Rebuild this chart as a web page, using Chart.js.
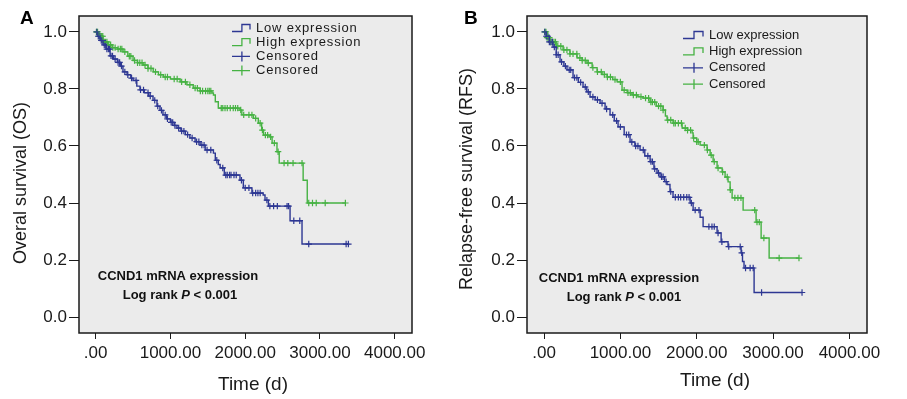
<!DOCTYPE html>
<html>
<head>
<meta charset="utf-8">
<script src="https://cdn.jsdelivr.net/npm/chart.js@4.4.1/dist/chart.umd.min.js"></script>
<style>
  html, body { margin: 0; padding: 0; background: #fff; }
  .panel { position: absolute; top: 0; }
  #pa { left: 0; }
  #pb { left: 450px; }
</style>
</head>
<body>
<div class="panel" id="pa"><canvas id="chartA" width="450" height="399"></canvas></div>
<div class="panel" id="pb"><canvas id="chartB" width="457" height="399"></canvas></div>
<script>
// axis ticks
const xTicks = [0, 1000, 2000, 3000, 4000];
const xTickLabels = ['.00', '1000.00', '2000.00', '3000.00', '4000.00'];
const yTicks = [0, 0.2, 0.4, 0.6, 0.8, 1.0];
const yTickLabels = ['0.0', '0.2', '0.4', '0.6', '0.8', '1.0'];

// A: overall survival, event times (d) and survival after each step
const osLowTime = [0, 30, 60, 100, 140, 193, 240, 290, 330, 365, 420, 470, 500, 550, 593, 650, 710, 767, 820, 860, 900, 950, 1000, 1050, 1087, 1140, 1200, 1260, 1330, 1397, 1465, 1575, 1600, 1640, 1665, 1720, 1930, 1975, 2090, 2240, 2265, 2310, 2600, 2760, 3380];
const osLowSurv = [1, 0.985, 0.97, 0.955, 0.94, 0.916, 0.905, 0.893, 0.88, 0.86, 0.85, 0.838, 0.83, 0.81, 0.797, 0.787, 0.775, 0.76, 0.74, 0.725, 0.709, 0.695, 0.683, 0.672, 0.663, 0.652, 0.64, 0.628, 0.615, 0.603, 0.586, 0.575, 0.55, 0.535, 0.523, 0.498, 0.48, 0.453, 0.435, 0.428, 0.41, 0.389, 0.338, 0.256, 0.256];
const osHighTime = [0, 40, 99, 160, 220, 290, 366, 430, 500, 560, 635, 700, 770, 840, 905, 1000, 1130, 1220, 1305, 1397, 1555, 1575, 1600, 1640, 1930, 1955, 2110, 2175, 2220, 2245, 2330, 2360, 2425, 2455, 2775, 2830, 3340];
const osHighSurv = [1, 0.985, 0.965, 0.955, 0.945, 0.94, 0.93, 0.915, 0.9, 0.892, 0.884, 0.872, 0.86, 0.85, 0.842, 0.835, 0.825, 0.815, 0.803, 0.793, 0.786, 0.779, 0.755, 0.733, 0.726, 0.709, 0.697, 0.68, 0.656, 0.638, 0.632, 0.61, 0.58, 0.54, 0.48, 0.40, 0.40];
const osLowCensored = [15, 35, 55, 75, 95, 115, 135, 150, 170, 185, 205, 225, 260, 300, 320, 345, 390, 430, 480, 540, 600, 640, 700, 730, 790, 830, 880, 930, 960, 1010, 1030, 1060, 1110, 1150, 1180, 1230, 1290, 1350, 1380, 1420, 1450, 1490, 1540, 1620, 1700, 1740, 1760, 1790, 1810, 1850, 1880, 1950, 2000, 2050, 2100, 2140, 2170, 2200, 2290, 2330, 2380, 2430, 2560, 2580, 2650, 2730, 2850, 3350, 3380];
const osHighCensored = [10, 25, 45, 60, 80, 95, 115, 130, 150, 175, 200, 230, 260, 300, 330, 350, 390, 450, 470, 520, 560, 590, 620, 660, 700, 740, 800, 870, 930, 960, 1050, 1090, 1150, 1200, 1260, 1330, 1360, 1400, 1430, 1470, 1500, 1520, 1540, 1680, 1700, 1730, 1760, 1800, 1840, 1870, 1900, 1940, 1980, 2050, 2090, 2140, 2200, 2230, 2270, 2300, 2340, 2390, 2440, 2520, 2570, 2640, 2760, 2850, 2900, 2950, 3070, 3340];

// B: relapse-free survival
const rfsLowTime = [0, 30, 70, 118, 160, 210, 260, 301, 380, 450, 511, 560, 603, 670, 734, 800, 865, 920, 970, 1050, 1127, 1190, 1258, 1320, 1389, 1440, 1480, 1520, 1580, 1612, 1650, 1690, 1914, 1953, 2045, 2084, 2267, 2320, 2411, 2582, 2600, 2620, 2752, 3380];
const rfsLowSurv = [1, 0.985, 0.965, 0.947, 0.92, 0.895, 0.88, 0.867, 0.84, 0.823, 0.807, 0.79, 0.772, 0.762, 0.75, 0.73, 0.709, 0.688, 0.667, 0.64, 0.614, 0.6, 0.586, 0.565, 0.545, 0.52, 0.505, 0.492, 0.475, 0.465, 0.44, 0.42, 0.40, 0.375, 0.35, 0.317, 0.295, 0.264, 0.247, 0.225, 0.195, 0.172, 0.086, 0.086];
const rfsHighTime = [0, 40, 79, 160, 249, 340, 432, 500, 563, 630, 695, 760, 826, 900, 957, 1022, 1090, 1153, 1230, 1297, 1389, 1470, 1560, 1590, 1612, 1690, 1809, 1880, 1940, 1953, 2000, 2045, 2136, 2176, 2215, 2267, 2333, 2372, 2411, 2438, 2464, 2608, 2778, 2844, 2949, 3340];
const rfsHighSurv = [1, 0.98, 0.965, 0.95, 0.937, 0.923, 0.909, 0.9, 0.891, 0.875, 0.86, 0.851, 0.842, 0.833, 0.825, 0.796, 0.787, 0.779, 0.773, 0.768, 0.754, 0.74, 0.726, 0.705, 0.691, 0.68, 0.663, 0.655, 0.646, 0.628, 0.615, 0.603, 0.586, 0.568, 0.545, 0.523, 0.509, 0.491, 0.474, 0.446, 0.418, 0.375, 0.333, 0.277, 0.207, 0.207];
const rfsLowCensored = [10, 30, 50, 70, 90, 110, 135, 160, 185, 230, 280, 330, 350, 400, 430, 480, 540, 580, 640, 700, 760, 820, 900, 950, 1000, 1080, 1110, 1150, 1200, 1230, 1300, 1360, 1400, 1420, 1450, 1500, 1540, 1560, 1600, 1660, 1720, 1760, 1790, 1830, 1870, 1900, 1930, 1980, 2030, 2160, 2200, 2230, 2280, 2330, 2420, 2570, 2590, 2640, 2700, 2740, 2850, 3380];
const rfsHighCensored = [10, 25, 40, 55, 70, 90, 110, 130, 150, 180, 220, 260, 300, 340, 380, 430, 470, 500, 540, 580, 640, 700, 750, 790, 830, 870, 930, 1000, 1050, 1100, 1130, 1170, 1210, 1270, 1330, 1370, 1400, 1420, 1450, 1500, 1530, 1560, 1620, 1660, 1700, 1720, 1760, 1800, 1850, 1880, 1920, 1960, 2000, 2020, 2100, 2140, 2190, 2230, 2280, 2340, 2400, 2440, 2500, 2540, 2580, 2760, 2790, 2820, 2880, 3080, 3340];

const seriesNames = ['Low expression', 'High expression', 'Censored', 'Censored'];

const BLUE = '#2d3793';
const GREEN = '#46b243';
const INK = '#1a1a1a';
const FONT = '"Liberation Sans", Arial, sans-serif';

function steps(times, surv) {
  return times.map((t, i) => ({ x: t, y: surv[i] }));
}
function survAt(times, surv, t) {
  let s = surv[0];
  for (let i = 0; i < times.length; i++) if (times[i] <= t) s = surv[i];
  return s;
}
function censorPts(cens, times, surv) {
  return cens.map(t => ({ x: t, y: survAt(times, surv, t) }));
}

const panelPlugin = {
  id: 'panel',
  beforeDraw(chart, args, o) {
    const { ctx, chartArea: a } = chart;
    ctx.save();
    ctx.fillStyle = '#ebebeb';
    ctx.fillRect(a.left, a.top, a.right - a.left, a.bottom - a.top);
    ctx.restore();
  },
  afterDraw(chart, args, o) {
    const { ctx, chartArea: a } = chart;
    ctx.save();
    ctx.strokeStyle = INK;
    ctx.lineWidth = 1.5;
    ctx.strokeRect(a.left, a.top, a.right - a.left, a.bottom - a.top);

    // panel letter
    ctx.fillStyle = '#000';
    ctx.font = 'bold 19px ' + FONT;
    ctx.textBaseline = 'alphabetic';
    ctx.fillText(o.letter, o.letterX, 24);

    // axis titles
    ctx.fillStyle = INK;
    ctx.font = '19px ' + FONT;
    ctx.textAlign = 'center';
    ctx.textBaseline = 'middle';
    ctx.fillText('Time (d)', o.xTitleX, o.xTitleY);
    ctx.save();
    ctx.translate(o.yTitleX, o.yTitleY);
    ctx.rotate(-Math.PI / 2);
    ctx.font = '18px ' + FONT;
    ctx.fillText(o.yTitle, 0, 0);
    ctx.restore();

    // note
    ctx.font = 'bold 13px ' + FONT;
    ctx.fillStyle = '#111';
    ctx.fillText('CCND1 mRNA expression', o.noteX, o.noteY);
    const p1 = 'Log rank ', p2 = 'P', p3 = ' < 0.001';
    const w1 = ctx.measureText(p1).width, w3 = ctx.measureText(p3).width;
    ctx.font = 'italic bold 13px ' + FONT;
    const w2 = ctx.measureText(p2).width;
    let x = o.note2X - (w1 + w2 + w3) / 2;
    ctx.textAlign = 'left';
    ctx.font = 'bold 13px ' + FONT;
    ctx.fillText(p1, x, o.noteY + 19);
    ctx.font = 'italic bold 13px ' + FONT;
    ctx.fillText(p2, x + w1, o.noteY + 19);
    ctx.font = 'bold 13px ' + FONT;
    ctx.fillText(p3, x + w1 + w2, o.noteY + 19);

    // legend
    ctx.font = '13px ' + FONT;
    ctx.letterSpacing = o.legSpacing + 'px';
    ctx.textBaseline = 'middle';
    const cols = [BLUE, GREEN, BLUE, GREEN];
    seriesNames.forEach((name, i) => {
      const y = o.legY + i * o.legGap;
      const x0 = o.legX, x1 = o.legX + o.legW;
      const xm = x0 + o.legW * 0.55;
      ctx.strokeStyle = cols[i];
      ctx.lineWidth = 1.3;
      ctx.beginPath();
      if (i < 2) {
        ctx.moveTo(x0, y + 3.5);
        ctx.lineTo(xm, y + 3.5);
        ctx.lineTo(xm, y - 3.5);
        ctx.lineTo(x1, y - 3.5);
        ctx.lineTo(x1, y + 1.5);
      } else {
        ctx.moveTo(x0, y);
        ctx.lineTo(x1, y);
        ctx.moveTo(xm, y - 5);
        ctx.lineTo(xm, y + 5);
      }
      ctx.stroke();
      ctx.fillStyle = INK;
      ctx.fillText(name, o.legX + o.legW + 6, y);
    });
    ctx.restore();
  }
};

function makeChart(id, low, high, lowC, highC, padRight, yWidth, opts) {
  return new Chart(document.getElementById(id), {
    type: 'scatter',
    data: {
      datasets: [
        { data: low, showLine: true, stepped: true, borderColor: BLUE, borderWidth: 1.4, pointRadius: 0 },
        { data: high, showLine: true, stepped: true, borderColor: GREEN, borderWidth: 1.4, pointRadius: 0 },
        { data: lowC, showLine: false, pointStyle: 'cross', pointRadius: 3.2, borderColor: BLUE, borderWidth: 1.2 },
        { data: highC, showLine: false, pointStyle: 'cross', pointRadius: 3.2, borderColor: GREEN, borderWidth: 1.2 }
      ]
    },
    options: {
      responsive: false,
      animation: false,
      layout: { padding: { top: 16, right: padRight, left: 0, bottom: 0 } },
      plugins: { legend: { display: false }, tooltip: { enabled: false }, panel: opts },
      scales: {
        x: {
          type: 'linear', min: -223, max: 4231,
          afterBuildTicks: s => { s.ticks = xTicks.map(v => ({ value: v })); },
          afterFit: s => { s.height = 66; },
          ticks: { callback: (v, i) => xTickLabels[i], font: { family: FONT, size: 17 }, color: INK, padding: 4, maxRotation: 0, autoSkip: false },
          grid: { drawOnChartArea: false, drawTicks: true, tickLength: 6, color: INK, lineWidth: 1 },
          border: { display: false }
        },
        y: {
          min: -0.056, max: 1.056,
          afterBuildTicks: s => { s.ticks = yTicks.map(v => ({ value: v })); },
          afterFit: s => { s.width = yWidth; },
          ticks: { callback: (v, i) => yTickLabels[i], font: { family: FONT, size: 17 }, color: INK, padding: 2, autoSkip: false },
          grid: { drawOnChartArea: false, drawTicks: true, tickLength: 10, color: INK, lineWidth: 1 },
          border: { display: false }
        }
      }
    },
    plugins: [panelPlugin]
  });
}

makeChart('chartA',
  steps(osLowTime, osLowSurv), steps(osHighTime, osHighSurv),
  censorPts(osLowCensored, osLowTime, osLowSurv), censorPts(osHighCensored, osHighTime, osHighSurv),
  38, 79,
  { letter: 'A', letterX: 20, xTitleX: 253, xTitleY: 385, yTitle: 'Overal survival (OS)', yTitleX: 21, yTitleY: 183,
    noteX: 178, note2X: 180, noteY: 276, legX: 232, legW: 18, legY: 28, legGap: 14.2, legSpacing: 0.8 });

makeChart('chartB',
  steps(rfsLowTime, rfsLowSurv), steps(rfsHighTime, rfsHighSurv),
  censorPts(rfsLowCensored, rfsLowTime, rfsLowSurv), censorPts(rfsHighCensored, rfsHighTime, rfsHighSurv),
  40, 77,
  { letter: 'B', letterX: 14, xTitleX: 265, xTitleY: 381, yTitle: 'Relapse-free survival (RFS)', yTitleX: 17, yTitleY: 179,
    noteX: 169, note2X: 174, noteY: 278, legX: 233, legW: 20, legY: 35, legGap: 16.4, legSpacing: 0 });
</script>
</body>
</html>
